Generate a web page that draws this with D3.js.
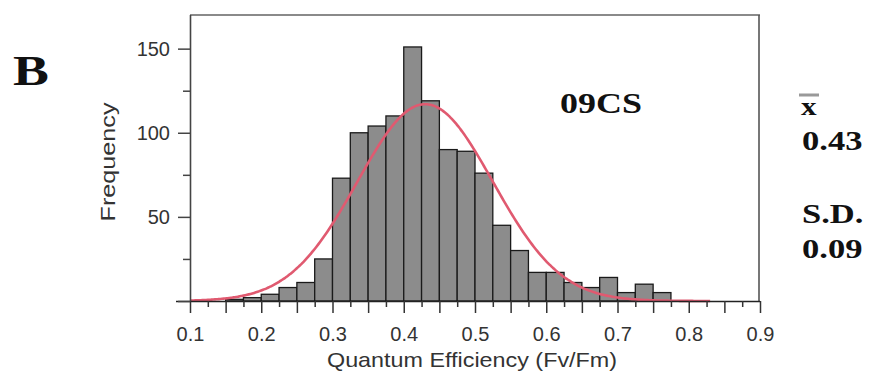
<!DOCTYPE html>
<html>
<head>
<meta charset="utf-8">
<script src="https://cdn.jsdelivr.net/npm/d3@7"></script>
<style>
  html, body { margin: 0; padding: 0; background: #fff; }
  svg { display: block; }
</style>
</head>
<body>
<svg id="chart" width="873" height="373"></svg>
<script>
// ---- Data ----
const binStarts = [0.150, 0.175, 0.200, 0.225, 0.250, 0.275, 0.300, 0.325, 0.350, 0.375,
                   0.400, 0.425, 0.450, 0.475, 0.500, 0.525, 0.550, 0.575, 0.600, 0.625,
                   0.650, 0.675, 0.700, 0.725, 0.750];
const frequencies = [1, 2, 4, 8, 11, 25, 73, 100, 104, 110,
                     151, 119, 90, 89, 76, 45, 30, 17, 17, 11,
                     8, 14, 5, 10, 5];
const binWidth = 0.025;
const xTickLabels = [0.1, 0.2, 0.3, 0.4, 0.5, 0.6, 0.7, 0.8, 0.9];
const yTickLabels = [50, 100, 150];
const fitMean = 0.43;   // x̄
const fitSD = 0.095;    // fitted curve spread (labelled S.D. 0.09)
const fitPeak = 117;    // fitted curve height
const fitRange = [0.1, 0.83];
const panelLetter = "B";
const siteLabel = "09CS";
const statLines = [{ t: "0.43", y: 150 }, { t: "S.D.", y: 223 }, { t: "0.09", y: 258 }];

// ---- Layout ----
const svg = d3.select("#chart");
const x = d3.scaleLinear().domain([0.1, 0.9]).range([190, 760]);
const y = d3.scaleLinear().domain([0, 170]).range([301, 15]);
const sans = "'Liberation Sans', Arial, Helvetica, sans-serif";
const serif = "'Liberation Serif', 'Times New Roman', serif";

// frame (top + right)
svg.append("line").attr("x1", x(0.1)).attr("x2", x(0.9)).attr("y1", y(170)).attr("y2", y(170))
  .attr("stroke", "#8a8a8a").attr("stroke-width", 2);
svg.append("line").attr("x1", x(0.9) - 1).attr("x2", x(0.9) - 1).attr("y1", y(170)).attr("y2", y(0))
  .attr("stroke", "#555").attr("stroke-width", 1.6);

// bars
svg.append("g").selectAll("rect")
  .data(binStarts.map((b, i) => ({ b, v: frequencies[i] })))
  .join("rect")
  .attr("x", d => x(d.b))
  .attr("width", d => x(d.b + binWidth) - x(d.b))
  .attr("y", d => y(d.v))
  .attr("height", d => y(0) - y(d.v))
  .attr("fill", "#8c8c8c")
  .attr("stroke", "#1a1a1a")
  .attr("stroke-width", 1.3);

// fitted normal curve
const curvePts = d3.range(fitRange[0], fitRange[1] + 1e-9, 0.0025);
const gauss = v => fitPeak * Math.exp(-((v - fitMean) ** 2) / (2 * fitSD * fitSD));
svg.append("path")
  .datum(curvePts)
  .attr("d", d3.line().x(d => x(d)).y(d => y(gauss(d))).curve(d3.curveBasis))
  .attr("fill", "none")
  .attr("stroke", "#e05a70")
  .attr("stroke-width", 2.6);

// x axis
const xTickVals = d3.range(0, 33).map(i => +(0.1 + i * 0.025).toFixed(3));
const xAxis = d3.axisBottom(x)
  .tickValues(xTickVals)
  .tickSizeOuter(0)
  .tickSize(12)
  .tickPadding(14)
  .tickFormat(d => xTickLabels.some(t => Math.abs(t - d) < 1e-6) ? d3.format(".1f")(d) : "");
const gx = svg.append("g").attr("transform", `translate(0,${y(0)})`).call(xAxis);
gx.select(".domain").attr("stroke", "#222").attr("stroke-width", 1.6)
  .attr("d", `M${x(0.1) - 14},0.5H${x(0.9)}`);
gx.selectAll(".tick line")
  .attr("stroke", "#333").attr("stroke-width", 1.5)
  .attr("y2", d => (Math.round(d * 1000) % 50 === 0) ? 12 : 6);
gx.selectAll(".tick text")
  .attr("font-family", sans).attr("font-size", 20).attr("fill", "#333");

// y axis
const yTickVals = [0, 25, 50, 75, 100, 125, 150];
const yAxis = d3.axisLeft(y)
  .tickValues(yTickVals)
  .tickSizeOuter(0)
  .tickSize(12)
  .tickPadding(8)
  .tickFormat(d => yTickLabels.includes(d) ? d : "");
const gy = svg.append("g").attr("transform", `translate(${x(0.1)},0)`).call(yAxis);
gy.select(".domain").attr("stroke", "#444").attr("stroke-width", 1.6)
  .attr("d", `M0.5,${y(170)}V${y(0)}`);
gy.selectAll(".tick line")
  .attr("stroke", "#444").attr("stroke-width", 1.5)
  .attr("x2", d => (d % 50 === 0) ? -12 : -7);
gy.selectAll(".tick text")
  .attr("font-family", sans).attr("font-size", 20).attr("fill", "#333");

// axis titles
svg.append("text")
  .attr("x", 472).attr("y", 367)
  .attr("text-anchor", "middle")
  .attr("font-family", sans).attr("font-size", 21).attr("fill", "#333")
  .attr("textLength", 290).attr("lengthAdjust", "spacingAndGlyphs")
  .text("Quantum Efficiency (Fv/Fm)");
svg.append("text")
  .attr("transform", "translate(115,162) rotate(-90)")
  .attr("text-anchor", "middle")
  .attr("font-family", sans).attr("font-size", 21).attr("fill", "#333")
  .attr("textLength", 119).attr("lengthAdjust", "spacingAndGlyphs")
  .text("Frequency");

// serif bold annotations (horizontally widened like the reference)
function stext(px, py, str, size, sx) {
  return svg.append("text")
    .attr("transform", `translate(${px},${py}) scale(${sx},1)`)
    .attr("font-family", serif).attr("font-weight", "bold")
    .attr("font-size", size).attr("fill", "#111")
    .text(str);
}
stext(13, 85, panelLetter, 42, 1.28);
stext(560, 113, siteLabel, 29, 1.24);
stext(801, 115, "x", 26, 1.2);
svg.append("line").attr("x1", 799).attr("x2", 819).attr("y1", 95).attr("y2", 95)
  .attr("stroke", "#999").attr("stroke-width", 3);
statLines.forEach(s => stext(802, s.y, s.t, 27, 1.28));
</script>
</body>
</html>
